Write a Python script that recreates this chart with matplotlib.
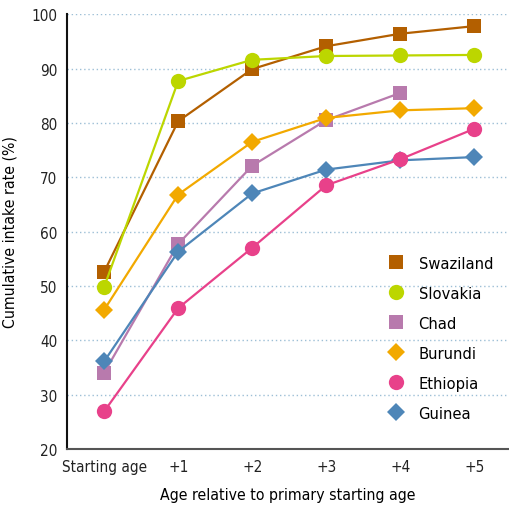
import matplotlib
matplotlib.use('Agg')
import matplotlib.pyplot as plt

plt.rcParams['font.family'] = ['DejaVu Sans']
plt.rcParams['font.stretch'] = 'condensed'

ages = ['Starting age', '+1', '+2', '+3', '+4', '+5']
countries = ['Swaziland', 'Slovakia', 'Chad', 'Burundi', 'Ethiopia', 'Guinea']
swaziland = [52.6, 80.3, 89.9, 94.1, 96.4, 97.8]
slovakia = [49.8, 87.7, 91.6, 92.3, 92.4, 92.5]
chad = [34.0, 57.7, 72.1, 80.5, 85.5]
burundi = [45.6, 66.8, 76.5, 80.9, 82.3, 82.7]
ethiopia = [26.9, 45.9, 57.0, 68.5, 73.3, 78.9]
guinea = [36.1, 56.3, 67.0, 71.4, 73.1, 73.7]

series = {'Swaziland': swaziland, 'Slovakia': slovakia, 'Chad': chad,
          'Burundi': burundi, 'Ethiopia': ethiopia, 'Guinea': guinea}
colors = {'Swaziland': '#b35f00', 'Slovakia': '#bcd600', 'Chad': '#b87aad',
          'Burundi': '#f2a900', 'Ethiopia': '#e8418a', 'Guinea': '#4e86b8'}
markers = {'Swaziland': ('s', 10.5), 'Slovakia': ('o', 11), 'Chad': ('s', 10.5),
           'Burundi': ('D', 9.5), 'Ethiopia': ('o', 11), 'Guinea': ('D', 9.5)}
zorders = {'Chad': 3, 'Guinea': 4, 'Swaziland': 5, 'Slovakia': 6,
           'Burundi': 7, 'Ethiopia': 8}

fig = plt.figure(figsize=(5.09, 5.06), dpi=100)
ax = fig.add_axes([0.132, 0.111, 0.868, 0.859])

handles = {}
for c in countries:
    vals = series[c]
    m, ms = markers[c]
    h, = ax.plot(range(len(vals)), vals, color=colors[c], lw=1.6,
                 marker=m, markersize=ms, markeredgewidth=0,
                 zorder=zorders[c], label=c)
    handles[c] = h

ax.set_xlim(-0.5, 5.47)
ax.set_ylim(20, 100)
ax.set_xticks(range(len(ages)))
ax.set_xticklabels(ages)
ax.set_yticks(range(20, 101, 10))
ax.tick_params(length=0, labelsize=11, colors='#222222', pad=7)
ax.yaxis.grid(True, linestyle=(0, (1, 2)), color='#9dbfd6', lw=1)
ax.set_axisbelow(True)
for s in ['top', 'right']:
    ax.spines[s].set_visible(False)
ax.spines['left'].set_color('#111111')
ax.spines['left'].set_linewidth(1.5)
ax.spines['bottom'].set_color('#555555')
ax.spines['bottom'].set_linewidth(1.5)

ax.set_xlabel('Age relative to primary starting age', fontsize=11.3, labelpad=10)
ax.set_ylabel('Cumulative intake rate (%)', fontsize=11.3, labelpad=10)

leg = ax.legend([handles[c] for c in countries], countries, loc='lower left',
                bbox_to_anchor=(0.71, 0.03), frameon=False, fontsize=11.8,
                handlelength=0, handletextpad=1.4, labelspacing=0.92,
                numpoints=1)

plt.savefig('out.png', dpi=100)
